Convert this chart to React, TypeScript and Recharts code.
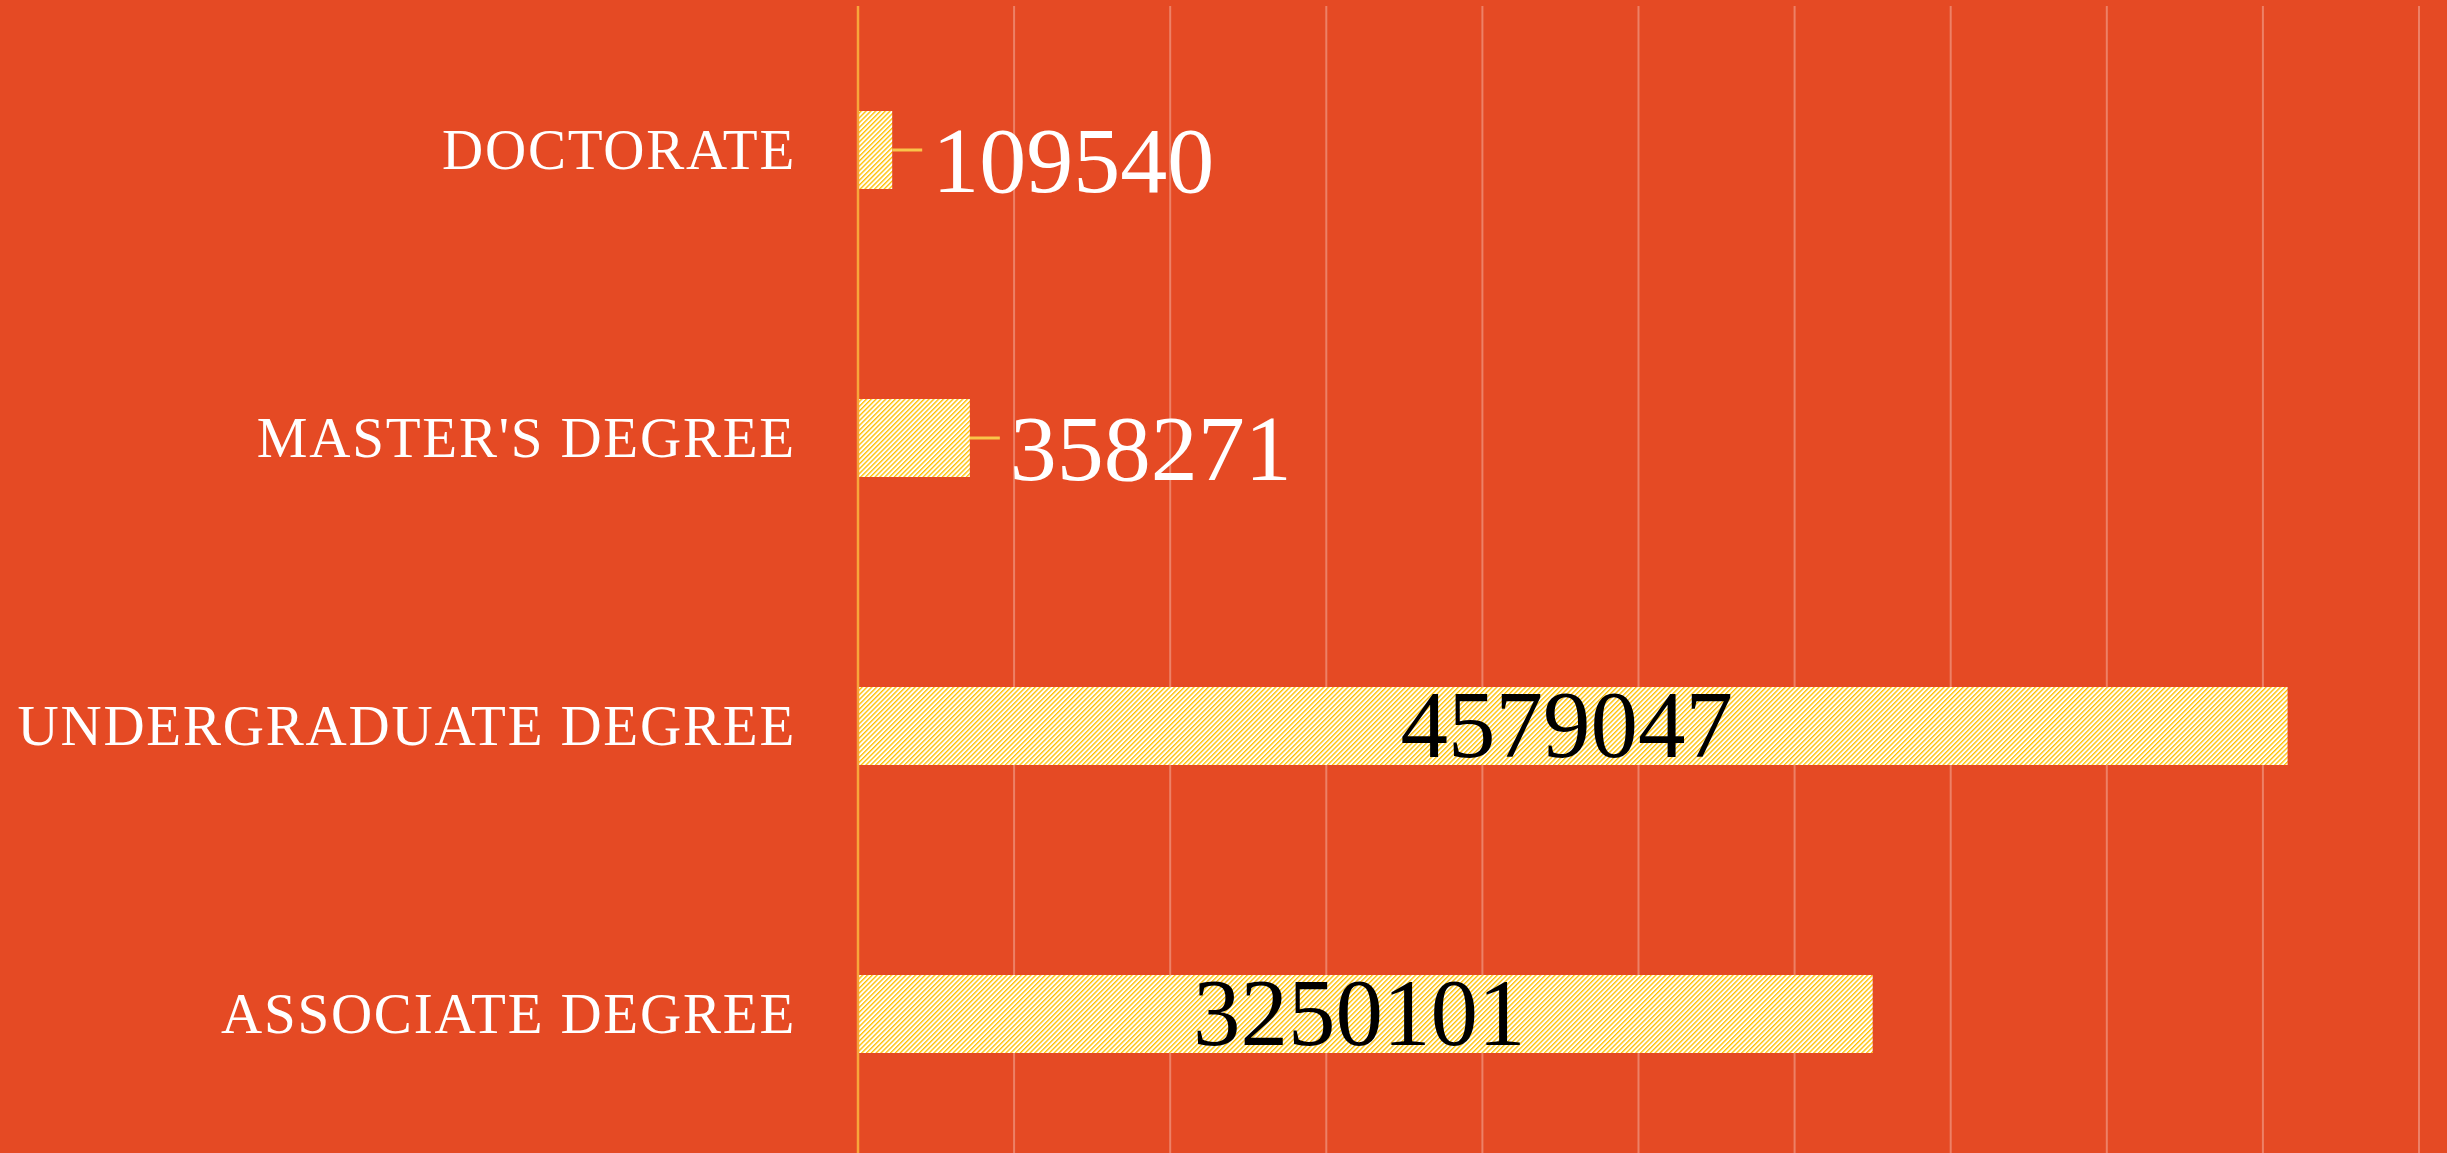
import { BarChart, Bar, XAxis, YAxis, CartesianGrid, LabelList } from "recharts";

const degrees = ["DOCTORATE", "MASTER'S DEGREE", "UNDERGRADUATE DEGREE", "ASSOCIATE DEGREE"];
const counts = [109540, 358271, 4579047, 3250101];
const xTicks = [0, 500000, 1000000, 1500000, 2000000, 2500000, 3000000, 3500000, 4000000, 4500000, 5000000];

const data = degrees.map((degree, i) => ({ degree, count: counts[i] }));

const BG = "#E54A24";
const SERIF = "'Liberation Serif', 'Times New Roman', serif";

function DegreeTick(props: any) {
  const { x, y, payload } = props;
  return (
    <text
      x={x}
      y={y}
      dy={19}
      textAnchor="end"
      fill="#ffffff"
      fontFamily={SERIF}
      fontSize={57}
      letterSpacing={1.8}
    >
      {payload.value}
    </text>
  );
}

function ValueLabel(props: any) {
  const { x, y, width, height, value } = props;
  const cy = y + height / 2;
  // small bars get the number outside with a little leader line
  if (value < 1000000) {
    const end = x + width;
    return (
      <g>
        <line x1={end} y1={cy} x2={end + 30} y2={cy} stroke="#F9C54A" strokeWidth={3} />
        <text x={end + 40} y={cy + 42} fill="#ffffff" fontFamily={SERIF} fontSize={94}>
          {value}
        </text>
      </g>
    );
  }
  return (
    <text
      x={x + width / 2 - 6}
      y={cy + 31}
      textAnchor="middle"
      fill="#000000"
      fontFamily={SERIF}
      fontSize={95}
    >
      {value}
    </text>
  );
}

export default function App() {
  return (
    <div
      style={{
        position: "absolute",
        left: 0,
        top: 0,
        width: 2447,
        height: 1153,
        background: BG,
        overflow: "hidden",
      }}
    >
      <BarChart
        width={2447}
        height={1158}
        data={data}
        layout="vertical"
        margin={{ top: 6, right: 28, bottom: 0, left: 0 }}
      >
        <defs>
          <pattern
            id="hatch"
            patternUnits="userSpaceOnUse"
            width={3.4}
            height={3.4}
            patternTransform="rotate(45)"
          >
            <rect width={3.4} height={3.4} fill="#ffffff" />
            <rect width={1.35} height={3.4} fill="#FFC000" />
          </pattern>
        </defs>
        <CartesianGrid
          horizontal={false}
          stroke="rgba(255,255,255,0.3)"
          strokeWidth={2}
        />
        <XAxis type="number" domain={[0, 5000000]} ticks={xTicks} hide />
        <YAxis
          type="category"
          dataKey="degree"
          width={858}
          tickLine={false}
          tickSize={0}
          tickMargin={62}
          axisLine={{ stroke: "#F8A53A", strokeWidth: 2.5 }}
          tick={<DegreeTick />}
        />
        <Bar dataKey="count" fill="url(#hatch)" barSize={78} isAnimationActive={false}>
          <LabelList dataKey="count" content={<ValueLabel />} />
        </Bar>
      </BarChart>
    </div>
  );
}
